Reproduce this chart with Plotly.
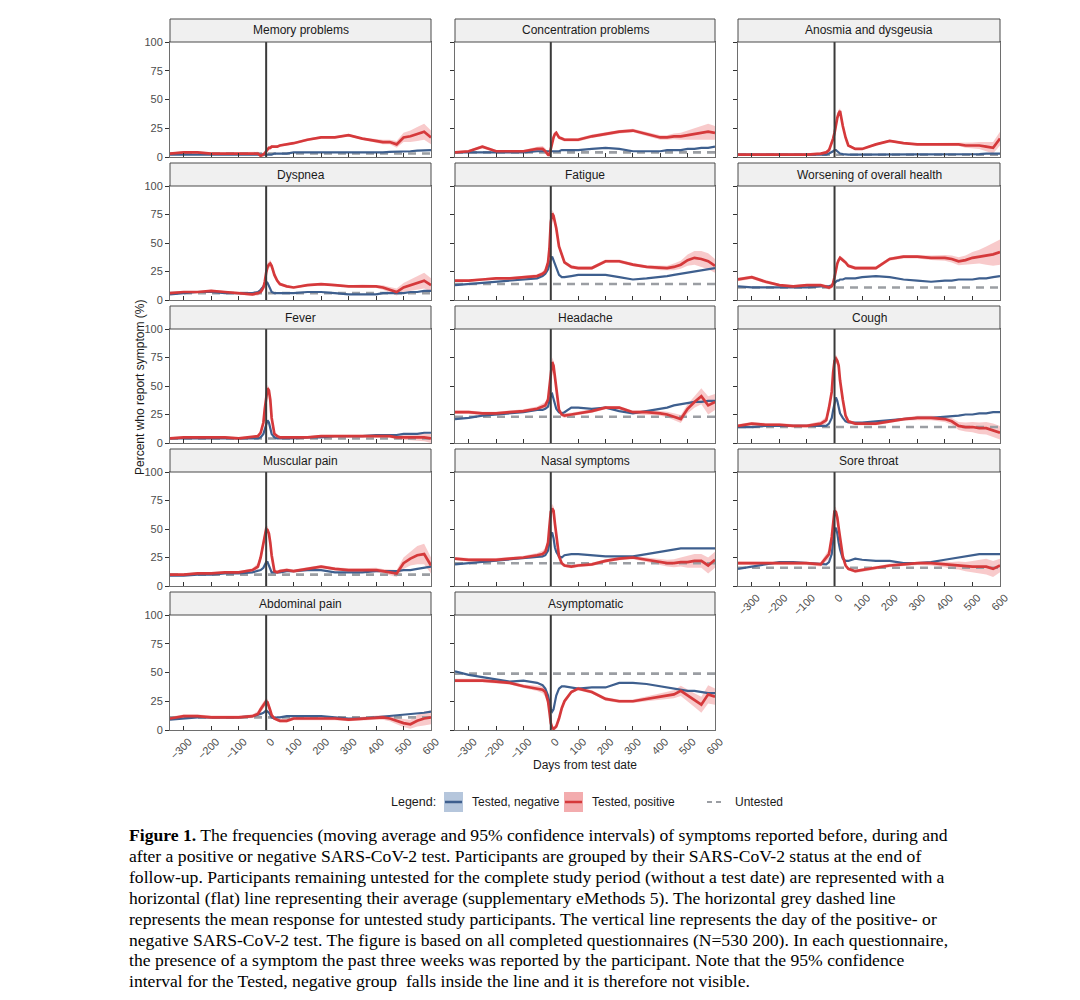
import plotly.graph_objects as go

W, H = 1080, 1000

days = [-350, -300, -250, -200, -150, -100, -50, -30, -20, -10, -5, 0, 5, 10, 15, 20, 30, 40, 50, 75,
        100, 150, 200, 250, 300, 350, 400, 425, 450, 475, 500, 525, 550, 575, 600]
x_ticks = [-300, -200, -100, 0, 100, 200, 300, 400, 500, 600]
y_ticks = [0, 25, 50, 75, 100]

titles = ["Memory problems", "Concentration problems", "Anosmia and dysgeusia",
          "Dyspnea", "Fatigue", "Worsening of overall health",
          "Fever", "Headache", "Cough",
          "Muscular pain", "Nasal symptoms", "Sore throat",
          "Abdominal pain", "Asymptomatic"]

untested = [3, 4, 2, 6, 14, 11, 4, 23, 14, 10, 20, 16, 11, 49]

# Tested, positive (mean), Tested, negative (mean), positive 95% CI half-width
memory_pos = [3,4,4,3,3,3,3,3,1,2,3, 5,7,8,8,9,9,9,10,11, 12,15,17,17,19,16,14,13,13,11,17,18,20,22,17]
memory_neg = [2,2,2,2,2,2,2,2,2,2,2, 2,2,2,2,2,3,3,3,3, 4,4,3.5,3.5,3.5,4,4,4,4.5,4.5,5,5,5.5,6,6]
memory_ci = [1,1,1,1,1,1,1,1.5,1.5,2,2, 2,1.5,1.5,1.5,1.5,1,1,1,1, 1,1,1,1,1,1,1.5,2,2,3,4,5,6,7,6]

concentration_pos = [4,5,9,5,5,5,7,7,5,2,2, 6,12,17,20,21,17,16,15,15, 15,18,20,22,23,20,17,17,18,18,19,20,21,22,21]
concentration_neg = [4,4,4,4,4,4,5,5,5,5,5, 5,5,5,5,5,5,6,6,6, 6,7,8,7,5,5,5,6,6,6,7,7,8,8,9]
concentration_ci = [1,1,1.5,1,1,1,2,2.5,2.5,2,2, 2,2,2,2,1.5,1.5,1.5,1.5,1.5, 1.5,1.5,1.5,1.5,1.5,1.5,2,2,2.5,3,4,5,6,7,6]

anosmia_pos = [2,2,2,2,2,2,3,4,6,12,16, 21,28,34,38,40,27,17,10,7, 7,11,14,12,11,11,11,11,11,10,10,10,9,8,16]
anosmia_neg = [2,2,2,2,2,2,2,2,3,4,5, 6,6,5,4,3,2.5,2,2,2, 2,2,2,2,2,2,2,2,2,2,2,2.5,3,3,3]
anosmia_ci = [1,1,1,1,1,1,1,1.5,2,3,3, 3,3,3,3,2.5,2,1.5,1,1, 1,1,1,1,1,1,1,1,1.5,2,2.5,3,4,5,6]

dyspnea_pos = [6,7,7,8,7,6,5,6,7,11,16, 24,29,31,32,30,22,17,14,12, 11,13,14,13,12,12,12,11,9,7,11,13,15,17,13]
dyspnea_neg = [5,6,7,7,6,6,6,7,9,12,14, 16,15,12,9,7,6,6,6,6, 6,7,7,6,5,5,5,6,6,6,6,7,7,8,8]
dyspnea_ci = [1,1,1,1,1,1,1.5,2,2,3,3, 3,3,3,3,2.5,2,1.5,1.5,1, 1,1,1,1,1,1.5,1.5,2,2.5,3,4,5,6,7,6]

fatigue_pos = [17,17,18,19,19,20,21,23,25,33,45, 68,76,74,69,63,47,39,33,29, 28,28,34,34,31,29,28,28,29,31,35,37,36,34,30]
fatigue_neg = [13,14,15,16,17,18,19,21,23,27,32, 36,38,35,31,28,22,20,20,21, 22,22,22,20,18,19,20,21,22,23,24,25,26,27,28]
fatigue_ci = [1,1,1,1,1,1,1.5,2,3,3,4, 4,3,3,3,2.5,2,2,1.5,1.5, 1.5,1.5,1.5,1.5,1.5,1.5,2,2,3,3.5,5,6,7,7,6]

worsening_pos = [18,20,16,13,12,13,13,12,11,12,15, 20,27,32,35,37,35,33,30,28, 28,28,36,38,38,37,37,36,34,35,37,38,39,40,42]
worsening_neg = [12,11,11,11,11,11,12,12,12,13,14, 15,16,17,17,18,18,19,19,19, 20,21,20,18,17,16,17,17,18,18,18,19,19,20,21]
worsening_ci = [1.5,1.5,1.5,1,1,1,1,1.5,2,2,2, 2,2,2,2,2,2,1.5,1.5,1.5, 1.5,1.5,1.5,1.5,1.5,2,2.5,3,3.5,4,5,6,8,10,11]

fever_pos = [4,5,5,5,5,4,5,6,9,18,30, 42,48,46,38,22,8,6,5,5, 5,5,6,6,6,6,6,6,6,5,5,5,5,5,4]
fever_neg = [4,4,4,4,4,4,4,4,5,8,12, 17,20,18,13,8,5,4,4,4, 4,5,5,6,6,6,7,7,7,7,8,8,8,9,9]
fever_ci = [1,1,1,1,1,1,1,1.5,2,3,3, 3,3,3,3,2.5,1.5,1,1,1, 1,1,1,1,1,1,1,1,1.5,2,2,2.5,3,3.5,4]

headache_pos = [27,27,26,26,27,28,30,32,33,38,50, 64,71,68,58,45,29,25,24,25, 26,28,31,31,27,27,26,25,23,21,30,36,41,33,36]
headache_neg = [21,22,24,25,26,27,29,29,30,32,37, 42,43,38,33,30,27,26,27,31, 31,30,31,28,26,28,30,31,33,34,35,36,36,37,37]
headache_ci = [1.5,1.5,1.5,1.5,1.5,1.5,2,3,3,3,4, 4,4,4,4,3,2,2,2,1.5, 1.5,1.5,1.5,1.5,1.5,2,2,2.5,3,3.5,4,5,7,8,7]

cough_pos = [15,17,16,16,15,15,17,20,31,45,62, 72,74,72,68,55,38,24,19,17, 17,17,19,21,22,22,21,19,15,14,14,13,13,11,9]
cough_neg = [14,14,15,15,15,15,15,15,17,22,29, 36,40,37,30,26,22,19,18,18, 18,19,20,21,22,22,23,23,24,25,25,26,26,27,27]
cough_ci = [1.5,1.5,1.5,1.5,1.5,1.5,2,3,4,4,4, 4,3.5,3.5,3.5,3,2.5,2,1.5,1.5, 1.5,1.5,1.5,1.5,2,2,2.5,3,3.5,4,4.5,5,5.5,6,6]

muscular_pos = [10,10,11,11,12,12,14,17,25,38,46, 50,49,46,38,27,13,12,13,14, 13,15,17,15,14,14,14,13,12,11,20,24,27,28,18]
muscular_neg = [9,9,10,10,11,11,12,13,14,16,19, 21,21,18,15,12,12,12,12,13, 13,14,14,12,12,12,13,13,13,13,14,14,15,16,17]
muscular_ci = [1.5,1,1,1,1,1,1.5,3,4,4,4, 4,3.5,3.5,3,2.5,1.5,1.5,1.5,1.5, 1.5,1.5,1.5,1.5,1.5,1.5,2,2,2.5,3,5,6,8,9,7]

nasal_pos = [24,23,23,23,24,25,27,28,30,38,52, 65,68,66,55,45,26,20,18,17, 18,19,22,24,25,23,21,20,20,21,21,22,22,18,23]
nasal_neg = [19,20,21,22,23,24,25,26,27,31,38, 45,47,42,34,30,26,25,27,28, 28,27,26,26,26,28,30,31,32,33,33,33,33,33,33]
nasal_ci = [1.5,1.5,1.5,1.5,1.5,1.5,2,3,3.5,4,4, 4,4,4,3.5,3,2,2,1.5,1.5, 1.5,1.5,1.5,1.5,1.5,2,2.5,3,3.5,4,5,6,6,7,7]

sore_pos = [20,20,20,20,20,20,19,25,28,43,57, 66,65,60,51,41,26,18,15,13, 14,16,18,19,20,20,19,18,18,17,17,17,17,15,18]
sore_neg = [15,17,19,21,21,20,19,19,21,28,40, 49,51,46,38,32,24,22,22,24, 23,22,22,20,20,21,23,24,25,26,27,28,28,28,28]
sore_ci = [1.5,1.5,1.5,1.5,1.5,1.5,2,3.5,4,4,4, 4,4,4,3.5,3,2,2,1.5,1.5, 1.5,1.5,1.5,1.5,1.5,2,2.5,3,3.5,4,5,6,7,7,6]

abdominal_pos = [10,12,12,11,11,11,12,14,18,22,24, 25,24,21,17,13,10,9,8,8, 10,10,10,10,9,10,11,11,10,8,6,5,8,10,11]
abdominal_neg = [9,10,11,11,11,11,12,13,14,15,16, 17,16,15,13,11,10,11,11,12, 12,12,12,11,10,10,11,12,12,13,13,14,14,15,16]
abdominal_ci = [1.5,1.5,1.5,1.5,1.5,1.5,1.5,2.5,3,3,3, 3,3,3,3,2,1.5,1.5,1.5,1.5, 1.5,1.5,1.5,1.5,1.5,1.5,2,2,2.5,3,3.5,4,5,6,6]

asymptomatic_pos = [43,43,43,42,41,38,36,35,33,25,16, 6,2,1,2,3,10,19,25,33, 36,33,27,25,25,27,29,30,31,34,30,26,22,31,29]
asymptomatic_neg = [51,48,46,44,42,43,41,39,36,30,24, 18,16,18,24,30,36,38,38,37, 36,37,37,41,41,40,38,37,36,35,34,34,33,32,32]
asymptomatic_ci = [1.5,1.5,1.5,1.5,1.5,1.5,2,3,4,4,4, 3,2,2,2,2,2,2,2,1.5, 1.5,1.5,1.5,1.5,1.5,2,2.5,3,3.5,4.5,5,6,7,8,7]

positives = [memory_pos, concentration_pos, anosmia_pos, dyspnea_pos, fatigue_pos, worsening_pos,
             fever_pos, headache_pos, cough_pos, muscular_pos, nasal_pos, sore_pos,
             abdominal_pos, asymptomatic_pos]
negatives = [memory_neg, concentration_neg, anosmia_neg, dyspnea_neg, fatigue_neg, worsening_neg,
             fever_neg, headache_neg, cough_neg, muscular_neg, nasal_neg, sore_neg,
             abdominal_neg, asymptomatic_neg]
cis = [memory_ci, concentration_ci, anosmia_ci, dyspnea_ci, fatigue_ci, worsening_ci,
       fever_ci, headache_ci, cough_ci, muscular_ci, nasal_ci, sore_ci,
       abdominal_ci, asymptomatic_ci]

# ---- style / layout ----
RED = "#d5393b"
RED_BAND = "rgba(238,128,130,0.42)"
BLUE = "#3e5f8e"
GREY_DASH = "#9b9ea3"
SANS = "Liberation Sans, Arial, sans-serif"
SERIF = "Liberation Serif, Times New Roman, serif"

col_px = [(170, 431), (455, 715), (738, 1000)]
row_px = [(42, 157), (186, 300), (329, 443), (472, 586), (615, 730)]
STRIP_H = 23

fig = go.Figure()
shapes = []
annotations = []
layout_axes = {}

for i, title in enumerate(titles):
    r, c = divmod(i, 3)
    n = i + 1
    xa = "x" if n == 1 else f"x{n}"
    ya = "y" if n == 1 else f"y{n}"
    pos, neg, ci = positives[i], negatives[i], cis[i]
    upper = [v + h for v, h in zip(pos, ci)]
    lower = [max(v - h, 0) for v, h in zip(pos, ci)]

    fig.add_trace(go.Scatter(x=days, y=lower, xaxis=xa, yaxis=ya, mode="lines",
                             line=dict(width=0, color=RED_BAND), hoverinfo="skip", showlegend=False))
    fig.add_trace(go.Scatter(x=days, y=upper, xaxis=xa, yaxis=ya, mode="lines", fill="tonexty",
                             fillcolor=RED_BAND, line=dict(width=0, color=RED_BAND),
                             hoverinfo="skip", showlegend=False))
    fig.add_trace(go.Scatter(x=[days[0], days[-1]], y=[untested[i], untested[i]], xaxis=xa, yaxis=ya,
                             mode="lines", line=dict(color=GREY_DASH, width=2.6, dash="8px,6px"),
                             showlegend=False))
    fig.add_trace(go.Scatter(x=days, y=neg, xaxis=xa, yaxis=ya, mode="lines",
                             line=dict(color=BLUE, width=2.2), showlegend=False))
    fig.add_trace(go.Scatter(x=days, y=pos, xaxis=xa, yaxis=ya, mode="lines",
                             line=dict(color=RED, width=2.7), showlegend=False))

    x0, x1 = col_px[c]
    t, b = row_px[r]
    show_x = i in (11, 12, 13)
    show_y = c == 0
    layout_axes["xaxis" if n == 1 else f"xaxis{n}"] = dict(
        domain=[x0 / W, x1 / W], anchor=ya, range=[-350, 600], tickvals=x_ticks,
        showticklabels=show_x, tickangle=-45, ticklabelshift=5, ticks="inside", ticklen=4,
        tickcolor="#333333", tickwidth=1, showline=True, mirror=True, linecolor="#6e6e6e",
        linewidth=1, showgrid=False, zeroline=False, automargin=False,
        tickfont=dict(family=SANS, size=11, color="#4d4d4d"))
    layout_axes["yaxis" if n == 1 else f"yaxis{n}"] = dict(
        domain=[1 - b / H, 1 - t / H], anchor=xa, range=[0, 100], tickvals=y_ticks,
        showticklabels=show_y, ticks="outside", ticklen=4, tickcolor="#333333", tickwidth=1,
        showline=True, mirror=True, linecolor="#6e6e6e", linewidth=1,
        showgrid=False, zeroline=False, automargin=False,
        tickfont=dict(family=SANS, size=11, color="#4d4d4d"))

    # vertical line at the test date
    shapes.append(dict(type="line", xref=xa, yref=f"{ya} domain", x0=0, x1=0, y0=0, y1=1,
                       line=dict(color="#3a3a3a", width=2), layer="above"))
    # facet strip
    shapes.append(dict(type="rect", xref="paper", yref="paper", x0=x0 / W, x1=x1 / W,
                       y0=1 - t / H, y1=1 - (t - STRIP_H) / H, fillcolor="#f0f0f0",
                       line=dict(color="#4a4a4a", width=1), layer="above"))
    annotations.append(dict(text=title, xref="paper", yref="paper", x=(x0 + x1) / 2 / W,
                            y=1 - (t - STRIP_H / 2) / H, showarrow=False, xanchor="center",
                            yanchor="middle", font=dict(family=SANS, size=12, color="#1a1a1a")))

# axis titles
annotations.append(dict(text="Percent who report symptom (%)", xref="paper", yref="paper",
                        x=140 / W, y=1 - 388 / H, textangle=-90, showarrow=False,
                        xanchor="center", yanchor="middle",
                        font=dict(family=SANS, size=12, color="#1a1a1a")))
annotations.append(dict(text="Days from test date", xref="paper", yref="paper",
                        x=585 / W, y=1 - 765 / H, showarrow=False, xanchor="center",
                        yanchor="middle", font=dict(family=SANS, size=12, color="#1a1a1a")))

# custom legend
LEG_Y = 802
annotations.append(dict(text="Legend:", xref="paper", yref="paper", x=389 / W, y=1 - LEG_Y / H,
                        showarrow=False, xanchor="left", yanchor="middle",
                        font=dict(family=SANS, size=12.5, color="#1a1a1a")))
legend_items = [("Tested, negative", BLUE, "#b5c6dc", 444, 470),
                ("Tested, positive", RED, "#f3acae", 564, 590)]
for label, lc, fc, bx, tx in legend_items:
    shapes.append(dict(type="rect", xref="paper", yref="paper", x0=bx / W, x1=(bx + 19) / W,
                       y0=1 - (LEG_Y + 10) / H, y1=1 - (LEG_Y - 10) / H, fillcolor=fc,
                       line=dict(width=0)))
    shapes.append(dict(type="line", xref="paper", yref="paper", x0=(bx + 1) / W, x1=(bx + 18) / W,
                       y0=1 - LEG_Y / H, y1=1 - LEG_Y / H, line=dict(color=lc, width=2.5)))
    annotations.append(dict(text=label, xref="paper", yref="paper", x=tx / W, y=1 - LEG_Y / H,
                            showarrow=False, xanchor="left", yanchor="middle",
                            font=dict(family=SANS, size=12, color="#1a1a1a")))
shapes.append(dict(type="line", xref="paper", yref="paper", x0=707 / W, x1=724 / W,
                   y0=1 - LEG_Y / H, y1=1 - LEG_Y / H,
                   line=dict(color=GREY_DASH, width=2, dash="5px,4px")))
annotations.append(dict(text="Untested", xref="paper", yref="paper", x=733 / W, y=1 - LEG_Y / H,
                        showarrow=False, xanchor="left", yanchor="middle",
                        font=dict(family=SANS, size=12, color="#1a1a1a")))

# caption
caption_lines = [
    "<b>Figure 1.</b> The frequencies (moving average and 95% confidence intervals) of symptoms reported before, during and",
    "after a positive or negative SARS-CoV-2 test. Participants are grouped by their SARS-CoV-2 status at the end of",
    "follow-up. Participants remaining untested for the complete study period (without a test date) are represented with a",
    "horizontal (flat) line representing their average (supplementary eMethods 5). The horizontal grey dashed line",
    "represents the mean response for untested study participants. The vertical line represents the day of the positive- or",
    "negative SARS-CoV-2 test. The figure is based on all completed questionnaires (N=530 200). In each questionnaire,",
    "the presence of a symptom the past three weeks was reported by the participant. Note that the 95% confidence",
    "interval for the Tested, negative group  falls inside the line and it is therefore not visible.",
]
for k, line in enumerate(caption_lines):
    annotations.append(dict(text=line, xref="paper", yref="paper", x=127 / W,
                            y=1 - (835 + 20.9 * k) / H, showarrow=False, xanchor="left",
                            yanchor="middle", font=dict(family=SERIF, size=17.6, color="#000000")))

fig.update_layout(width=W, height=H, margin=dict(l=0, r=0, t=0, b=0, pad=0, autoexpand=False),
                  paper_bgcolor="white", plot_bgcolor="white", showlegend=False,
                  shapes=shapes, annotations=annotations, **layout_axes)

fig.write_html("out.html", config={"displayModeBar": False},
               post_script="document.body.style.margin='0px';document.body.style.overflow='hidden';")
